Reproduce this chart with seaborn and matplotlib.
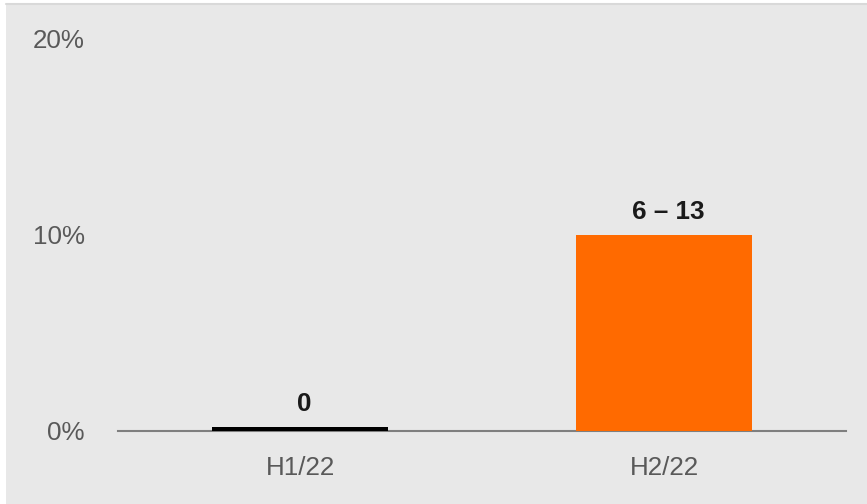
import matplotlib
matplotlib.use("Agg")
import matplotlib.pyplot as plt
import seaborn as sns
import pandas as pd
from matplotlib.patches import Rectangle
from matplotlib.lines import Line2D

categories = ["H1/22", "H2/22"]
values = [0.2, 10.0]
bar_labels = ["0", "6 – 13"]
bar_colors = ["#000000", "#FF6A00"]
y_ticks = [0, 10, 20]
y_tick_labels = ["0%", "10%", "20%"]

sns.set_theme(style="white")
plt.rcParams["font.family"] = ["Liberation Sans", "DejaVu Sans"]

W, H = 867, 504
fig = plt.figure(figsize=(W / 100, H / 100), dpi=100, facecolor="white")
fig.patches.append(Rectangle((6 / W, 0), 1 - 6 / W, 1 - 4 / H, transform=fig.transFigure,
                             facecolor="#e8e8e8", edgecolor="none", zorder=-2))
fig.lines.append(Line2D([6 / W, 1], [1 - 4 / H, 1 - 4 / H], transform=fig.transFigure,
                        color="#d9d9d9", lw=1.5, zorder=-1))

ax = fig.add_axes([118 / W, 1 - 431 / H, (846 - 118) / W, (431 - 39) / H])
ax.set_facecolor("none")
ax.set_zorder(2)

df = pd.DataFrame({"cat": categories, "val": values})
sns.barplot(data=df, x="cat", y="val", hue="cat", palette=bar_colors, width=0.484,
            legend=False, ax=ax, saturation=1, edgecolor="none", linewidth=0)

ax.set_ylim(0, 20)
ax.set_xlim(-0.5, 1.5)
ax.set_yticks(y_ticks)
ax.set_yticklabels(y_tick_labels)
ax.set_xlabel("")
ax.set_ylabel("")
ax.tick_params(axis="y", length=0, pad=24, labelsize=18.7, labelcolor="#595959")
ax.tick_params(axis="x", length=0, pad=18, labelsize=18.7, labelcolor="#595959")
for s in ["top", "right", "left"]:
    ax.spines[s].set_visible(False)
ax.spines["bottom"].set_color("#7f7f7f")
ax.spines["bottom"].set_linewidth(1.5)
ax.spines["bottom"].set_zorder(0.5)

for i, (v, lab) in enumerate(zip(values, bar_labels)):
    ax.annotate(lab, (i, v), xytext=(3, 8), textcoords="offset points",
                ha="center", va="bottom", fontsize=18.7, fontweight="bold", color="#1a1a1a")

fig.savefig("out.png", dpi=100, facecolor="white")
